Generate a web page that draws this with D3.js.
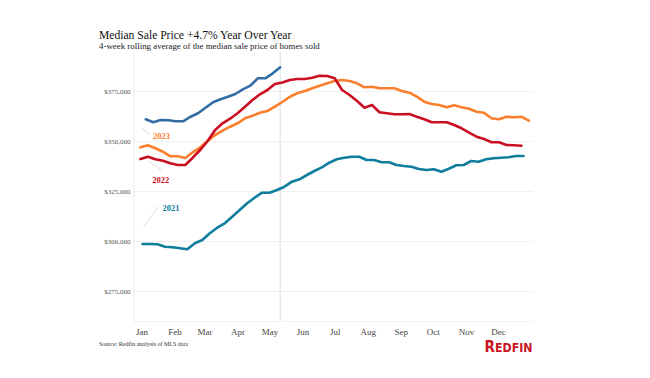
<!DOCTYPE html>
<html>
<head>
<meta charset="utf-8">
<script src="https://cdn.jsdelivr.net/npm/d3@7/dist/d3.min.js"></script>
<style>
  body { margin: 0; background: #fff; }
  text { font-family: 'Liberation Serif', 'Times New Roman', serif; }
</style>
</head>
<body>
<div class="svg-container"></div>
<script>
// weekly 4-week rolling median sale price
let years = ['2021', '2022', '2023', '2024']
let startDays = [1, -1, -1, 4]   // day of year of first weekly point

let prices2021 = [298750, 298750, 298600, 297400, 297100, 296600, 296100, 299100, 300750, 304100,
  306900, 309100, 312400, 315750, 319100, 321900, 324400, 324400, 325750, 327400, 329900,
  331100, 333250, 335250, 337100, 339400, 341100, 341900, 342400, 342400, 340750, 340750,
  339600, 339600, 338250, 337750, 337400, 336250, 335750, 336100, 334900, 336400, 338100,
  338250, 340250, 339900, 341100, 341600, 341900, 342100, 342750, 342750]

let prices2022 = [341250, 342400, 341100, 340400, 339100, 338250, 338250, 341900, 345750, 350250,
  355750, 359100, 361400, 364100, 367400, 370750, 373600, 375750, 378750,
  379500, 380750, 381250, 381250, 381900, 382900, 382750, 381600, 375750, 373250, 370250,
  366900, 368250, 364600, 364100, 363600, 363600,
  363750, 362400, 361100, 359600, 359600, 359600, 358250, 356600, 354400, 352400, 351250,
  349600, 349600, 348250, 348100, 347900]

let prices2023 = [347100, 348100, 346600, 344900, 342600, 342600, 341750, 344600, 347100, 350250,
  353250, 355400, 357400, 359100, 361600, 362900, 364400, 365250, 367400, 369750,
  372400, 374100, 375250, 376600, 377900, 379100, 380250, 380750, 380250, 379100, 377100,
  377400, 376600, 376600, 376600, 375250,
  374400, 372400, 369900, 368750, 368250, 367100, 368100, 367100, 366400, 364900, 364400,
  361600, 361100, 362400, 362100, 362400, 360400]

let prices2024 = [361100, 359600, 360750, 360600, 360100, 360100, 362400, 364100, 366900, 369600,
  371100, 372400, 373750, 376100, 377900, 381600, 381600, 384100, 387100]

let monthLabels = ['Jan', 'Feb', 'Mar', 'Apr', 'May', 'Jun', 'Jul', 'Aug', 'Sep', 'Oct', 'Nov', 'Dec']
let priceTicks = [275000, 300000, 325000, 350000, 375000]

let colors = {
  '2021': '#0e7d9e',
  '2022': '#cb0f22',
  '2023': '#fb7f2c',
  '2024': '#336da3'
}

let width = 650
let height = 378
let plotLeft = 134
let plotRight = 533
let plotTop = 52
let plotBottom = 321.5

let dayOf = (d) => d3.utcDay.offset(new Date(Date.UTC(2023, 0, 1)), d)

let xScale = d3.scaleUtc()
  .domain([dayOf(0), dayOf(364)])
  .range([141.5, 529.9])

let yScale = d3.scaleLinear()
  .domain([260000, 394750])
  .range([plotBottom, plotTop])

let allPrices = [prices2021, prices2022, prices2023, prices2024]
let series = years.map((year, i) => ({
  year: year,
  points: allPrices[i].map((v, w) => ({ date: dayOf(startDays[i] + 7 * w), value: v }))
}))

let svg = d3.select('.svg-container')
  .append('svg')
  .attr('width', width)
  .attr('height', height)

// grid
svg.append('g')
  .selectAll('line')
  .data(priceTicks)
  .enter()
  .append('line')
  .attr('x1', plotLeft)
  .attr('x2', plotRight)
  .attr('y1', d => yScale(d))
  .attr('y2', d => yScale(d))
  .attr('stroke', '#f1f1f1')
  .attr('stroke-width', 1)

svg.append('line')
  .attr('x1', plotLeft).attr('x2', plotLeft)
  .attr('y1', plotTop).attr('y2', plotBottom)
  .attr('stroke', '#ececec')

svg.append('line')
  .attr('x1', plotLeft).attr('x2', plotRight)
  .attr('y1', plotBottom).attr('y2', plotBottom)
  .attr('stroke', '#f3f3f3')

// marker at the latest week
let lastDate = series[3].points[series[3].points.length - 1].date
svg.append('line')
  .attr('x1', xScale(lastDate)).attr('x2', xScale(lastDate))
  .attr('y1', plotTop).attr('y2', plotBottom)
  .attr('stroke', '#e2e2e2')
  .attr('stroke-width', 1.2)

// axes
let yAxis = d3.axisLeft(yScale)
  .tickValues(priceTicks)
  .tickFormat(d3.format('$,'))
  .tickSize(0)
  .tickPadding(3)

svg.append('g')
  .attr('transform', `translate(${plotLeft - 0.5}, 0)`)
  .call(yAxis)
  .call(g => g.select('.domain').remove())
  .selectAll('text')
  .style('font-family', "'Liberation Serif', serif")
  .style('font-size', '7px')
  .attr('fill', '#555')

let xAxis = d3.axisBottom(xScale)
  .tickValues(d3.utcMonth.range(dayOf(0), dayOf(365)))
  .tickFormat((d, i) => monthLabels[i])
  .tickSize(0)
  .tickPadding(6)

svg.append('g')
  .attr('transform', `translate(0, ${plotBottom + 1})`)
  .call(xAxis)
  .call(g => g.select('.domain').remove())
  .selectAll('text')
  .style('font-family', "'Liberation Serif', serif")
  .style('font-size', '9px')
  .attr('fill', '#444')

// lines
let line = d3.line()
  .x(d => xScale(d.date))
  .y(d => yScale(d.value))

let drawOrder = ['2021', '2023', '2022', '2024']
svg.append('g')
  .selectAll('path')
  .data(drawOrder.map(y => series.find(s => s.year === y)))
  .enter()
  .append('path')
  .attr('d', d => line(d.points))
  .attr('fill', 'none')
  .attr('stroke', d => colors[d.year])
  .attr('stroke-width', 2.6)
  .attr('stroke-linejoin', 'round')
  .attr('stroke-linecap', 'round')

// year labels with leader lines
let labels = [
  { year: '2023', x: 153, y: 139.3, lx1: 142.3, ly1: 128.3, lx2: 150, ly2: 135 },
  { year: '2022', x: 152.3, y: 183.3, lx1: 148.3, ly1: 160.7, lx2: 162.3, ly2: 170.7 },
  { year: '2021', x: 162.5, y: 210.7, lx1: 143.3, ly1: 227.3, lx2: 158.3, ly2: 206.7 }
]

svg.append('g')
  .selectAll('line')
  .data(labels)
  .enter()
  .append('line')
  .attr('x1', d => d.lx1).attr('y1', d => d.ly1)
  .attr('x2', d => d.lx2).attr('y2', d => d.ly2)
  .attr('stroke', '#d4d4d4')
  .attr('stroke-width', 0.8)

svg.append('g')
  .selectAll('text')
  .data(labels)
  .enter()
  .append('text')
  .attr('x', d => d.x)
  .attr('y', d => d.y)
  .attr('fill', d => colors[d.year])
  .style('font-size', '8.5px')
  .style('font-weight', 'bold')
  .text(d => d.year)

// titles
svg.append('text')
  .attr('x', 99)
  .attr('y', 38.5)
  .attr('fill', '#111')
  .style('font-size', '11.6px')
  .text('Median Sale Price +4.7% Year Over Year')

svg.append('text')
  .attr('x', 99)
  .attr('y', 49)
  .attr('fill', '#222')
  .style('font-size', '8.9px')
  .text('4-week rolling average of the median sale price of homes sold')

svg.append('text')
  .attr('x', 99)
  .attr('y', 345.5)
  .attr('fill', '#333')
  .style('font-size', '6px')
  .text('Source: Redfin analysis of MLS data')

// logo
let logo = svg.append('text')
  .attr('x', 484.5)
  .attr('y', 351.5)
  .attr('fill', '#c8141f')
  .attr('textLength', 48)
  .attr('lengthAdjust', 'spacingAndGlyphs')
  .style('font-family', "'DejaVu Sans Condensed', 'Liberation Sans Narrow', 'Roboto', sans-serif")
  .style('font-weight', 'bold')

logo.append('tspan').style('font-size', '16px').text('R')
logo.append('tspan').style('font-size', '13px').text('EDFIN')
</script>
</body>
</html>
